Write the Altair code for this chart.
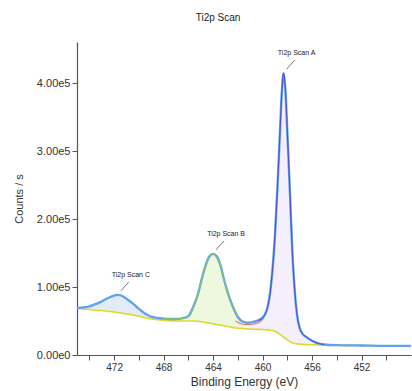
import altair as alt
import pandas as pd

FONT = "Liberation Sans"

# Binding energy grid (eV)
binding_energy = [
    475.0, 474.5, 474.0, 473.5, 473.0, 472.5, 472.0, 471.7, 471.3, 471.0,
    470.5, 470.0, 469.5, 469.0, 468.5, 468.0, 467.5, 467.0, 466.5, 466.0,
    465.6, 465.2, 464.9, 464.6, 464.3, 464.0, 463.7, 463.4, 463.1, 462.8,
    462.4, 462.0, 461.6, 461.2, 460.8, 460.4, 460.0, 459.8, 459.6, 459.4,
    459.2, 459.0, 458.8, 458.6, 458.45, 458.3, 458.15, 458.0, 457.8, 457.6,
    457.4, 457.2, 457.0, 456.8, 456.5, 456.0, 455.5, 455.0, 454.0, 452.0,
    450.0, 448.0,
]

# Envelope intensity, in units of 1e5 counts/s
envelope_1e5 = [
    0.69, 0.70, 0.715, 0.75, 0.79, 0.84, 0.875, 0.885, 0.865, 0.83,
    0.76, 0.68, 0.61, 0.565, 0.545, 0.535, 0.53, 0.53, 0.54, 0.57,
    0.71, 0.91, 1.13, 1.32, 1.45, 1.49, 1.45, 1.32, 1.10, 0.91,
    0.71, 0.56, 0.49, 0.475, 0.485, 0.505, 0.55, 0.60, 0.70, 0.90,
    1.25, 1.75, 2.45, 3.25, 3.85, 4.15, 3.90, 3.30, 2.45, 1.55,
    0.95, 0.58, 0.40, 0.32, 0.27, 0.21, 0.17, 0.155, 0.145, 0.14,
    0.135, 0.135,
]

# Shirley-type background, in units of 1e5 counts/s
background_1e5 = [
    0.69, 0.68, 0.67, 0.66, 0.655, 0.645, 0.635, 0.625, 0.615, 0.605,
    0.59, 0.57, 0.55, 0.53, 0.52, 0.51, 0.505, 0.50, 0.50, 0.50,
    0.50, 0.495, 0.49, 0.48, 0.47, 0.46, 0.45, 0.44, 0.43, 0.42,
    0.405, 0.395, 0.39, 0.385, 0.38, 0.378, 0.375, 0.373, 0.37, 0.365,
    0.36, 0.35, 0.33, 0.305, 0.285, 0.265, 0.245, 0.225, 0.20, 0.18,
    0.17, 0.165, 0.16, 0.157, 0.153, 0.15, 0.148, 0.146, 0.143, 0.14,
    0.135, 0.135,
]

# Shoulder component on the high-energy side of peak A
shoulder_energy = [462.2, 461.8, 461.4, 461.0, 460.6, 460.2, 459.9, 459.7]
shoulder_1e5 = [0.50, 0.465, 0.45, 0.45, 0.46, 0.49, 0.55, 0.63]

# Peak labels
peak_names = ["Ti2p Scan A", "Ti2p Scan B", "Ti2p Scan C"]
peak_energy = [458.3, 464.0, 471.7]
peak_1e5 = [4.15, 1.49, 0.885]

# Fill ranges (eV) of each region
regions = {
    "C": (466.5, 475.0, "#e3ebfa"),
    "B": (461.0, 467.0, "#eef8dc"),
    "A": (455.0, 461.2, "#f4effb"),
}

assert len(binding_energy) == len(envelope_1e5) == len(background_1e5)

spec = pd.DataFrame({
    "be": binding_energy,
    "env": [v * 1e5 for v in envelope_1e5],
    "bkg": [v * 1e5 for v in background_1e5],
})
shoulder = pd.DataFrame({"be": shoulder_energy,
                         "env": [v * 1e5 for v in shoulder_1e5]})
peaks = pd.DataFrame({"name": peak_names, "be": peak_energy,
                      "env": [v * 1e5 for v in peak_1e5]})

y_ticks = [i * 50000 for i in range(10)]
x_ticks = list(range(450, 476, 2))
y_scale = alt.Scale(domain=[0, 461000], nice=False)

x_enc = alt.X(
    "be:Q",
    scale=alt.Scale(domain=[448, 475], reverse=True, nice=False, zero=False),
    axis=alt.Axis(
        title="Binding Energy (eV)", values=x_ticks,
        labelExpr="datum.value % 4 == 0 ? datum.label : ''",
        grid=False, tickSize=5, labelPadding=2, titlePadding=4,
        labelFontSize=10, titleFontSize=12, titleFontWeight="normal",
    ),
)
y_enc = alt.Y(
    "env:Q",
    scale=y_scale,
    axis=alt.Axis(
        title="Counts / s", values=y_ticks,
        labelExpr="datum.value % 100000 == 0 ? replace(format(datum.value, '.2e'), '+', '') : ''",
        grid=False, tickSize=5, labelPadding=2, titlePadding=12,
        labelFontSize=11, titleFontSize=11, titleFontWeight="normal",
    ),
)

base = alt.Chart(spec)

layers = []
for key, (lo, hi, fill) in regions.items():
    layers.append(
        base.transform_filter((alt.datum.be >= lo) & (alt.datum.be <= hi))
        .mark_area(color=fill, interpolate="monotone", opacity=1)
        .encode(x=x_enc, y=y_enc, y2="bkg:Q")
    )

background_line = base.mark_line(color="#dcdc2a", strokeWidth=1.6, interpolate="monotone").encode(
    x=x_enc, y=alt.Y("bkg:Q", scale=y_scale)
)
envelope_line = base.mark_line(color="#62a2ee", strokeWidth=2.4, interpolate="monotone").encode(
    x=x_enc, y=y_enc
)
shoulder_line = alt.Chart(shoulder).mark_line(color="#e07272", strokeWidth=1.1, interpolate="monotone").encode(
    x=x_enc, y=y_enc
)
green_line = (
    base.transform_filter((alt.datum.be >= 462.0) & (alt.datum.be <= 468.0))
    .mark_line(color="#8ccf3c", strokeWidth=0.9, interpolate="monotone")
    .encode(x=x_enc, y=y_enc)
)
purple_line = (
    base.transform_filter((alt.datum.be >= 455.0) & (alt.datum.be <= 460.4))
    .mark_line(color="#4a44c4", strokeWidth=0.9, interpolate="monotone")
    .encode(x=x_enc, y=y_enc)
)

leaders = alt.Chart(peaks).mark_rule(
    color="#555555", strokeWidth=0.8,
    xOffset=3, yOffset=-4, x2Offset=11, y2Offset=-13,
).encode(x=x_enc, y=y_enc, x2="be:Q", y2="env:Q")

labels = alt.Chart(peaks).mark_text(
    font=FONT, fontSize=7, color="#222222", dx=13, dy=-20,
    align="center", baseline="middle",
).encode(x=x_enc, y=y_enc, text="name:N")

chart = (
    alt.layer(*layers, background_line, shoulder_line, envelope_line,
              green_line, purple_line, leaders, labels)
    .properties(
        width=334, height=313,
        title=alt.TitleParams("Ti2p Scan", fontSize=10, font=FONT, fontWeight="normal",
                              color="#222222", anchor="middle", dx=-26, offset=19),
        autosize=alt.AutoSizeParams(type="none"),
        padding={"left": 77, "top": 42, "right": 1, "bottom": 36},
        background="white",
    )
    .configure_view(stroke=None)
    .configure_axis(
        domainColor="#555555", tickColor="#555555", labelColor="#333333",
        titleColor="#333333", labelFont=FONT, titleFont=FONT,
        titleFontWeight="normal", domainWidth=1.2,
    )
)

chart.save("out.html", embed_options={"renderer": "svg", "actions": False})
